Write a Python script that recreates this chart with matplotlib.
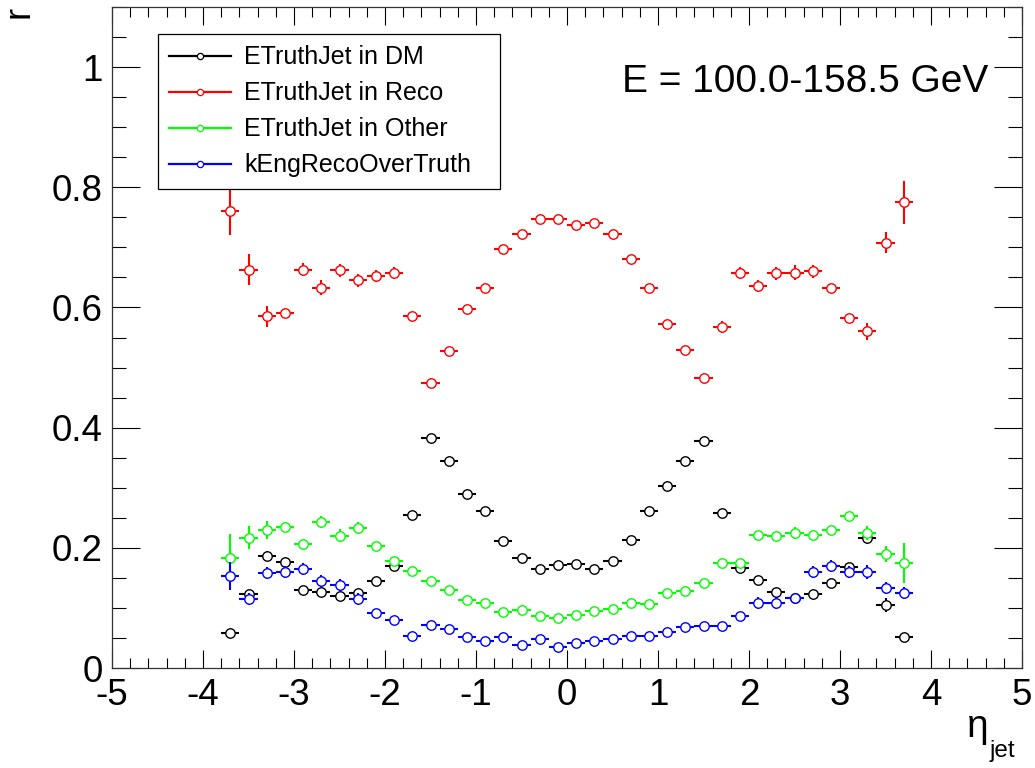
import matplotlib
matplotlib.use("Agg")
import matplotlib.pyplot as plt
from matplotlib.lines import Line2D
from matplotlib.ticker import MultipleLocator
import numpy as np

plt.rcParams['font.family'] = ['Liberation Sans', 'DejaVu Sans']
plt.rcParams['axes.unicode_minus'] = False

eta = [-3.7, -3.5, -3.3, -3.1, -2.9, -2.7, -2.5, -2.3, -2.1, -1.9,
       -1.7, -1.5, -1.3, -1.1, -0.9, -0.7, -0.5, -0.3, -0.1, 0.1,
       0.3, 0.5, 0.7, 0.9, 1.1, 1.3, 1.5, 1.7, 1.9, 2.1,
       2.3, 2.5, 2.7, 2.9, 3.1, 3.3, 3.5, 3.7]
eta_halfwidth = 0.1

dm = [0.058, 0.123, 0.187, 0.177, 0.130, 0.127, 0.120, 0.125, 0.145, 0.170,
      0.255, 0.382, 0.345, 0.290, 0.262, 0.212, 0.183, 0.165, 0.172, 0.173,
      0.165, 0.178, 0.213, 0.262, 0.303, 0.345, 0.377, 0.258, 0.167, 0.147,
      0.127, 0.117, 0.123, 0.142, 0.168, 0.217, 0.105, 0.052]
dm_err = [0.004, 0.006, 0.007, 0.005, 0.004, 0.004, 0.004, 0.004, 0.004, 0.004,
          0.004, 0.004, 0.004, 0.004, 0.004, 0.004, 0.004, 0.004, 0.004, 0.004,
          0.004, 0.004, 0.004, 0.004, 0.004, 0.004, 0.004, 0.004, 0.004, 0.004,
          0.004, 0.004, 0.004, 0.004, 0.005, 0.011, 0.012, 0.005]

reco = [0.760, 0.663, 0.585, 0.590, 0.663, 0.633, 0.662, 0.645, 0.653, 0.657,
        0.585, 0.475, 0.527, 0.598, 0.632, 0.697, 0.723, 0.748, 0.747, 0.738,
        0.740, 0.723, 0.680, 0.633, 0.573, 0.530, 0.483, 0.567, 0.658, 0.635,
        0.657, 0.658, 0.660, 0.632, 0.582, 0.560, 0.708, 0.775]
reco_err = [0.040, 0.026, 0.017, 0.007, 0.011, 0.012, 0.011, 0.011, 0.010, 0.010,
            0.007, 0.008, 0.007, 0.006, 0.006, 0.005, 0.005, 0.005, 0.005, 0.005,
            0.005, 0.005, 0.005, 0.005, 0.006, 0.006, 0.007, 0.010, 0.010, 0.010,
            0.011, 0.012, 0.011, 0.007, 0.007, 0.014, 0.018, 0.036]

other = [0.183, 0.217, 0.230, 0.235, 0.207, 0.243, 0.220, 0.233, 0.203, 0.178,
         0.162, 0.145, 0.130, 0.113, 0.108, 0.093, 0.097, 0.087, 0.083, 0.088,
         0.095, 0.098, 0.108, 0.107, 0.125, 0.128, 0.142, 0.175, 0.175, 0.222,
         0.220, 0.225, 0.222, 0.230, 0.253, 0.225, 0.190, 0.175]
other_err = [0.040, 0.019, 0.015, 0.006, 0.006, 0.010, 0.011, 0.010, 0.005, 0.005,
             0.005, 0.005, 0.005, 0.005, 0.005, 0.005, 0.005, 0.005, 0.005, 0.005,
             0.005, 0.005, 0.005, 0.005, 0.005, 0.005, 0.005, 0.005, 0.005, 0.005,
             0.005, 0.010, 0.006, 0.006, 0.006, 0.012, 0.013, 0.033]

ratio = [0.153, 0.115, 0.158, 0.160, 0.165, 0.145, 0.138, 0.115, 0.092, 0.080,
         0.053, 0.072, 0.065, 0.052, 0.045, 0.052, 0.038, 0.048, 0.035, 0.042,
         0.045, 0.048, 0.053, 0.053, 0.060, 0.068, 0.070, 0.070, 0.087, 0.108,
         0.108, 0.117, 0.160, 0.170, 0.160, 0.160, 0.133, 0.125]
ratio_err = [0.023, 0.010, 0.010, 0.010, 0.010, 0.010, 0.010, 0.010, 0.005, 0.005,
             0.005, 0.005, 0.005, 0.005, 0.005, 0.005, 0.005, 0.005, 0.005, 0.005,
             0.005, 0.005, 0.005, 0.005, 0.005, 0.005, 0.005, 0.005, 0.005, 0.010,
             0.010, 0.005, 0.010, 0.010, 0.010, 0.012, 0.010, 0.010]

series = [
    ("ETruthJet in DM", dm, dm_err, "black"),
    ("ETruthJet in Reco", reco, reco_err, "#ff0000"),
    ("ETruthJet in Other", other, other_err, "#00ff00"),
    ("kEngRecoOverTruth", ratio, ratio_err, "#0000ff"),
]

fig = plt.figure(figsize=(10.35, 7.68), dpi=100)
ax = fig.add_axes([112/1035, 100/768, 910/1035, 661/768])

for i, (name, vals, errs, col) in enumerate(series):
    ax.errorbar(eta, vals, yerr=errs, xerr=eta_halfwidth, fmt='o', color=col,
                ecolor=col, elinewidth=1.5, capsize=0, markersize=6.8,
                markerfacecolor='white', markeredgecolor=col, markeredgewidth=1.0,
                zorder=3 + i)

ax.set_xlim(-5, 5)
ax.set_ylim(0, 1.1)
ax.xaxis.set_major_locator(MultipleLocator(1))
ax.xaxis.set_minor_locator(MultipleLocator(0.2))
ax.yaxis.set_major_locator(MultipleLocator(0.2))
ax.yaxis.set_minor_locator(MultipleLocator(0.05))
ax.set_yticks([0, 0.2, 0.4, 0.6, 0.8, 1.0])
ax.set_yticklabels(['0', '0.2', '0.4', '0.6', '0.8', '1'])

ax.tick_params(axis='both', which='both', direction='in', top=True, right=True,
               labelsize=26.5, width=0.8, colors='black')
ax.tick_params(axis='x', which='major', length=13, pad=7)
ax.tick_params(axis='x', which='minor', length=7)
ax.tick_params(axis='y', which='major', length=20, pad=6.5)
ax.tick_params(axis='y', which='minor', length=10)
for s in ax.spines.values():
    s.set_linewidth(0.9)
    s.set_color('#333333')

handles = [Line2D([0], [0], color=col, lw=1.6, marker='o', markersize=4.5,
                  markerfacecolor='white', markeredgecolor=col, markeredgewidth=0.9)
           for (_, _, _, col) in series]
labels = [s[0] for s in series]
leg = fig.legend(handles, labels, loc='upper left',
                 bbox_to_anchor=(158/1035, 1 - 34/768, 342/1035, 0.0),
                 mode='expand', fontsize=18, frameon=True, fancybox=False,
                 edgecolor='black', framealpha=1, borderpad=0.45,
                 handlelength=2.45, handletextpad=0.55, labelspacing=0.48,
                 borderaxespad=0)
leg.get_frame().set_linewidth(0.9)
leg.set_zorder(10)

fig.text(988/1035, 1 - 92/768, "E = 100.0-158.5 GeV", fontsize=28,
         ha='right', va='baseline')

fig.text(19/1035, 1 - 6/768, "r", fontsize=26, rotation=90, ha='center', va='top')
fig.text(989/1035, 1 - 737/768, "η", fontsize=28, ha='right', va='baseline')
fig.text(990/1035, 1 - 757/768, "jet", fontsize=17.5, ha='left', va='baseline')

fig.savefig("out.png", dpi=100)
